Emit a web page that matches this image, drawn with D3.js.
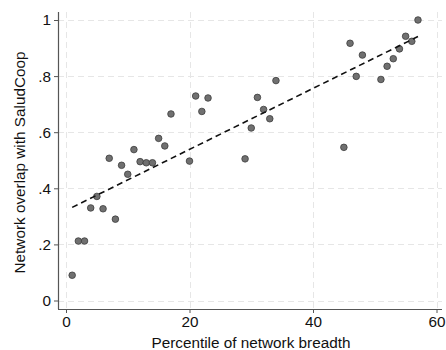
<!DOCTYPE html>
<html>
<head>
<meta charset="utf-8">
<script src="https://cdn.jsdelivr.net/npm/d3@7"></script>
<style>
  html, body { margin: 0; padding: 0; background: #fff; }
  svg { display: block; font-family: "Liberation Sans", Arial, sans-serif; }
</style>
</head>
<body>
<svg id="chart" width="446" height="350"></svg>
<script>
// Percentile of network breadth (x) vs. network overlap with SaludCoop (y)
const breadth = [1, 2, 3, 4, 5, 6, 7, 8, 9, 10, 11, 12, 13, 14, 15, 16, 17,
                 20, 21, 22, 23, 29, 30, 31, 32, 33, 34,
                 45, 46, 47, 48, 51, 52, 53, 54, 55, 56, 57];
const overlap = [0.090, 0.212, 0.212, 0.330, 0.371, 0.327, 0.507, 0.290, 0.482, 0.450,
                 0.538, 0.495, 0.491, 0.491, 0.578, 0.551, 0.665,
                 0.497, 0.729, 0.674, 0.722, 0.505, 0.615, 0.724, 0.681, 0.648, 0.784,
                 0.546, 0.917, 0.799, 0.875, 0.788, 0.835, 0.862, 0.897, 0.942, 0.924, 1.000];

// Linear fit, drawn between the smallest and largest breadth
const fitX = [1, 57];
const fitY = [0.332, 0.941];

const xTicks = [0, 20, 40, 60];
const yTicks = [0, 0.2, 0.4, 0.6, 0.8, 1];
const yTickLabels = ["0", ".2", ".4", ".6", ".8", "1"];

const svg = d3.select("#chart");
const fontSize = 15.3;

const x = d3.scaleLinear().domain([0, 60]).range([66, 436.5]);
const y = d3.scaleLinear().domain([0, 1]).range([300.5, 20]);

const plotLeft = 58, plotRight = 442, plotTop = 12, plotBottom = 309;

// grid
const grid = svg.append("g")
  .attr("stroke", "#e6e6e6").attr("stroke-width", 1).attr("stroke-dasharray", "6,4");
grid.selectAll("line.h").data(yTicks).join("line").attr("class", "h")
  .attr("x1", plotLeft).attr("x2", plotRight)
  .attr("y1", d => Math.round(y(d)) + 0.5).attr("y2", d => Math.round(y(d)) + 0.5);
grid.selectAll("line.v").data(xTicks).join("line").attr("class", "v")
  .attr("y1", plotTop).attr("y2", plotBottom)
  .attr("x1", d => Math.round(x(d)) + 0.5).attr("x2", d => Math.round(x(d)) + 0.5);

// axes
const xAxis = d3.axisBottom(x).tickValues(xTicks).tickSize(4).tickPadding(3).tickSizeOuter(0);
const gx = svg.append("g").attr("transform", `translate(0,${plotBottom})`).call(xAxis);
gx.select(".domain").attr("d", `M${plotLeft},0.5H${plotRight}`);

const yAxis = d3.axisLeft(y).tickValues(yTicks).tickFormat((d, i) => yTickLabels[i])
  .tickSize(4).tickPadding(3).tickSizeOuter(0);
const gy = svg.append("g").attr("transform", `translate(${plotLeft},0)`).call(yAxis);
gy.select(".domain").attr("d", `M0.5,${plotTop}V${plotBottom}`);

[gx, gy].forEach(g => {
  g.selectAll(".domain").attr("stroke", "#555").attr("stroke-width", 1.2);
  g.selectAll(".tick line").attr("stroke", "#555");
  g.selectAll(".tick text").attr("font-size", fontSize).attr("fill", "#111")
    .attr("font-family", "Liberation Sans, Arial, sans-serif");
});

// axis titles
svg.append("text").attr("x", 251).attr("y", 348).attr("text-anchor", "middle")
  .attr("font-size", fontSize).attr("fill", "#111").text("Percentile of network breadth");
svg.append("text")
  .attr("transform", `translate(25,${(plotTop + plotBottom) / 2 + 2}) rotate(-90)`)
  .attr("text-anchor", "middle").attr("font-size", fontSize).attr("fill", "#111")
  .text("Network overlap with SaludCoop");

// points
svg.append("g").selectAll("circle").data(breadth).join("circle")
  .attr("cx", d => x(d)).attr("cy", (d, i) => y(overlap[i])).attr("r", 3.3)
  .attr("fill", "#707070").attr("stroke", "#3c3c3c").attr("stroke-width", 0.8);

// fit line
svg.append("path")
  .attr("d", d3.line().x(d => x(d[0])).y(d => y(d[1]))(fitX.map((v, i) => [v, fitY[i]])))
  .attr("fill", "none").attr("stroke", "#111").attr("stroke-width", 1.6)
  .attr("stroke-dasharray", "6,4");
</script>
</body>
</html>
